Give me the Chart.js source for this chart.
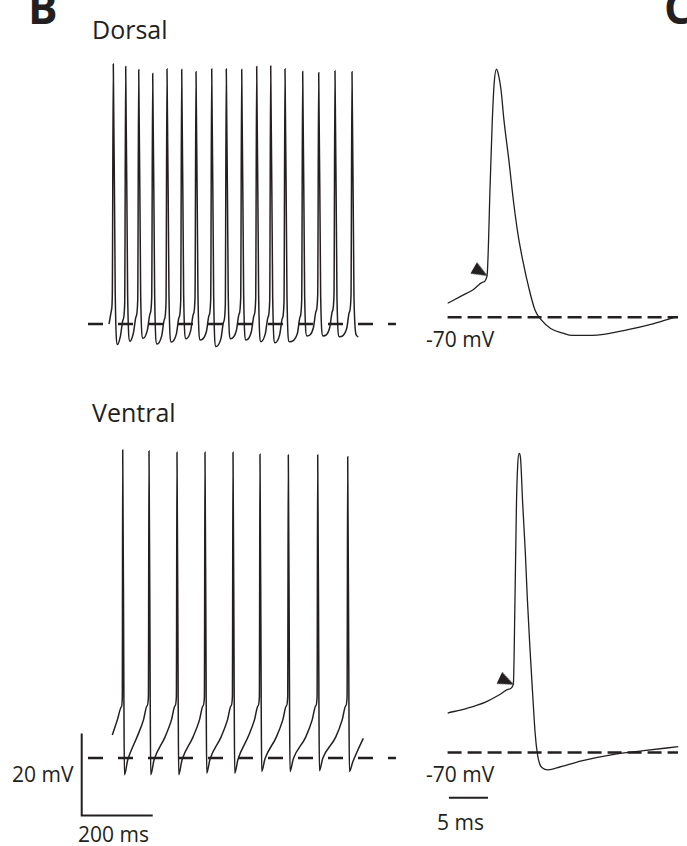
<!DOCTYPE html>
<html>
<head>
<meta charset="utf-8">
<script src="https://cdn.jsdelivr.net/npm/chart.js@4.4.0/dist/chart.umd.min.js"></script>
<style>
  body { margin: 0; background: #fff; }
  #page { position: relative; width: 687px; height: 846px; overflow: hidden; font-family: "Open Sans", sans-serif; color: #231f20; }
  .lbl { position: absolute; white-space: nowrap; line-height: 1; }
  canvas { position: absolute; }
</style>
</head>
<body>
<div id="page">
  <div class="lbl" style="left:28px;top:-15px;font-size:44px;font-weight:bold">B</div>
  <div class="lbl" style="left:664px;top:-15px;font-size:44px;font-weight:bold">C</div>
  <div class="lbl" style="left:92px;top:17px;font-size:25px">Dorsal</div>
  <div class="lbl" style="left:92px;top:400px;font-size:25px">Ventral</div>
  <div class="lbl" style="left:426px;top:329px;font-size:21px">-70 mV</div>
  <div class="lbl" style="left:426px;top:764px;font-size:21px">-70 mV</div>
  <div class="lbl" style="left:12px;top:764px;font-size:21px">20 mV</div>
  <div class="lbl" style="left:78px;top:824px;font-size:21px">200 ms</div>
  <div class="lbl" style="left:437px;top:812px;font-size:21px">5 ms</div>
  <canvas id="dorsalTrain" width="355" height="328" style="left:80px;top:37px"></canvas>
  <canvas id="dorsalSpike" width="257" height="328" style="left:430px;top:37px"></canvas>
  <canvas id="ventralTrain" width="355" height="410" style="left:80px;top:430px"></canvas>
  <canvas id="ventralSpike" width="257" height="410" style="left:430px;top:430px"></canvas>
</div>
<script>
const INK = "#231f20";

// membrane potential traces, [time ms, voltage mV]
const dorsalTrain = [
  [81.7,-70.0],[88.7,-66.6],[91.0,-63.0],
  [93.8,-6.6],[99.3,-63],[105.8,-75.0],[113.7,-73.0],[121.2,-69.0],[125.9,-65.0],
  [128.7,-7.2],[134.2,-63],[140.7,-74.2],[150.4,-72.2],[157.9,-68.2],[162.6,-64.2],
  [165.4,-8.0],[170.9,-63],[177.4,-73.5],[189.8,-71.5],[197.3,-67.5],[202.0,-63.5],
  [204.8,-8.9],[210.3,-63],[216.8,-74.9],[230.1,-72.9],[237.6,-68.9],[242.3,-64.9],
  [245.1,-7.8],[250.6,-63],[257.1,-74.4],[271.5,-72.4],[279.0,-68.4],[283.7,-64.4],
  [286.5,-7.9],[292.0,-63],[298.5,-73.6],[311.8,-71.6],[319.3,-67.6],[324.0,-63.6],
  [326.8,-8.5],[332.3,-63],[338.8,-73.9],[356.0,-71.9],[363.5,-67.9],[368.2,-63.9],
  [371.0,-7.8],[376.5,-63],[383.0,-75.5],[397.1,-73.5],[404.6,-69.5],[409.3,-65.5],
  [412.1,-7.8],[417.6,-63],[424.1,-73.6],[440.5,-71.6],[448.0,-67.6],[452.7,-63.6],
  [455.5,-7.9],[461.0,-63],[467.5,-73.9],[482.7,-71.9],[490.2,-67.9],[494.9,-63.9],
  [497.7,-7.2],[503.2,-63],[509.7,-74.3],[522.2,-72.3],[529.7,-68.3],[534.4,-64.3],
  [537.2,-7.1],[542.7,-63],[549.2,-74.6],[562.5,-72.6],[570.0,-68.6],[574.7,-64.6],
  [577.5,-7.8],[583.0,-63],[589.5,-74.3],[612.3,-72.3],[619.8,-68.3],[624.5,-64.3],
  [627.3,-8.4],[632.8,-63],[639.3,-72.9],[657.4,-70.9],[664.9,-66.9],[669.6,-62.9],
  [672.4,-8.7],[677.9,-63],[684.4,-72.9],[703.3,-70.9],[710.8,-66.9],[715.5,-62.9],
  [718.3,-8.3],[723.8,-63],[730.3,-73.1],[751.2,-71.1],[758.7,-67.1],[763.4,-63.1],
  [766.2,-8.5],[771.7,-63],[778.2,-72.7],[784.0,-73.1]
];

const dorsalSpike = [
  [1.11,-66.4],[2.77,-64.6],[4.37,-62.9],[5.56,-61.0],[6.15,-59.3],
  [6.55,-35.7],[6.82,-19.4],[7.06,-9.7],[7.35,-6.0],[7.54,-6.8],[7.94,-11.3],
  [8.33,-19.4],[8.93,-29.2],[9.52,-39.8],[10.12,-48.7],[10.71,-55.2],[11.51,-62.5],
  [12.30,-68.2],[13.10,-70.7],[14.29,-72.9],[15.87,-74.1],[17.06,-74.7],[20.24,-74.6],
  [24.20,-73.2],[27.38,-71.7],[30.60,-69.8]
];

const ventralTrain = [
  [91.0,-64.4],[105.2,-60.7],[116.6,-57.5],[119.2,-55.1],
  [120.3,5.1],[123.7,-55.9],[125.1,-74.1],[134.4,-70.5],[160.6,-64.9],[178.9,-60.7],[188.8,-57.3],[192.7,-55.1],
  [194.4,4.9],[197.8,-55.9],[199.2,-74.1],[208.5,-70.5],[239.4,-64.9],[257.7,-60.7],[267.6,-57.3],[271.5,-55.1],
  [273.2,4.6],[276.6,-55.9],[278.0,-74.1],[287.3,-70.5],[318.3,-64.9],[336.6,-60.7],[346.5,-57.3],[350.4,-55.1],
  [352.1,4.6],[355.5,-55.9],[356.9,-73.7],[366.2,-70.3],[397.2,-64.9],[415.5,-60.7],[425.4,-57.3],[429.3,-55.1],
  [431.0,4.6],[434.4,-55.9],[435.8,-73.7],[445.1,-70.3],[473.2,-64.9],[491.5,-60.7],[501.4,-57.3],[505.3,-55.1],
  [507.0,4.1],[510.4,-55.9],[511.8,-73.3],[521.1,-70.2],[553.0,-64.9],[571.3,-60.7],[581.2,-57.3],[585.1,-55.1],
  [586.8,3.9],[590.2,-55.9],[591.6,-73.3],[600.9,-70.2],[635.8,-64.9],[654.1,-60.7],[664.0,-57.3],[667.9,-55.1],
  [669.6,3.9],[673.0,-55.9],[674.4,-73.1],[683.7,-70.1],[720.3,-64.9],[738.6,-60.7],[748.5,-57.3],[752.4,-55.1],
  [754.1,3.5],[757.5,-55.9],[758.9,-73.3],[768.3,-71.0],[783.0,-68.0],[798.0,-65.2]
];

const ventralSpike = [
  [1.11,-59.9],[3.57,-58.7],[5.95,-57.1],[7.94,-55.0],[8.93,-53.8],[9.52,-52.6],
  [9.73,-30.7],[9.92,-6.3],[10.08,3.5],[10.27,6.3],[10.44,5.1],[10.71,-6.3],
  [11.04,-18.5],[11.31,-30.7],[11.63,-42.9],[11.99,-55.0],[12.30,-64.8],[12.58,-70.1],
  [12.89,-72.9],[13.30,-74.0],[13.89,-74.4],[15.08,-73.9],[18.25,-72.1],[22.23,-70.5],
  [26.19,-69.5],[30.63,-68.5]
];

// resting level and the span of the dashed reference lines (ms)
const restLevel = -70;
const trainRestSpan = [22.5, 890];
const spikeRestSpan = [1.1, 30.6];

// threshold arrowheads [ms, mV, angle deg]
const dorsalArrow = [5.33, -58.3, 30];
const ventralArrow = [8.66, -51.8, 25];

// scale bars: 20 mV / 200 ms and 5 ms
const trainScaleBar = [[4.8,-64],[4.8,-84],[204.8,-84]];
const spikeScaleBar = [[1.27,-81.5],[6.27,-81.5]];

const xy = (pts) => pts.map(([x, y]) => ({ x, y }));

// small arrowhead glyph, pointing right, used as a point style
const arrowHead = document.createElement("canvas");
arrowHead.width = 16;
arrowHead.height = 13;
(function () {
  const g = arrowHead.getContext("2d");
  g.fillStyle = INK;
  g.beginPath();
  g.moveTo(0, 0);
  g.lineTo(16, 6.5);
  g.lineTo(0, 13);
  g.closePath();
  g.fill();
})();

function trace(pts, width) {
  return {
    data: xy(pts), showLine: true, borderColor: INK, borderWidth: width,
    pointRadius: 0, cubicInterpolationMode: "monotone", clip: false, fill: false
  };
}

function restLine(span, dash) {
  return {
    data: [{ x: span[0], y: restLevel }, { x: span[1], y: restLevel }],
    showLine: true, borderColor: INK, borderWidth: 2.5, borderDash: dash,
    pointRadius: 0, clip: false
  };
}

function arrow(p) {
  return {
    data: [{ x: p[0], y: p[1] }], showLine: false, pointStyle: arrowHead,
    rotation: p[2], pointRadius: 8, clip: false
  };
}

function bar(pts) {
  return {
    data: xy(pts), showLine: true, borderColor: INK, borderWidth: 2,
    pointRadius: 0, clip: false, borderCapStyle: "butt"
  };
}

function makeChart(id, xMax, yMin, yMax, datasets) {
  return new Chart(document.getElementById(id), {
    type: "scatter",
    data: { datasets },
    options: {
      responsive: false,
      animation: false,
      layout: { padding: 0 },
      scales: {
        x: { type: "linear", min: 0, max: xMax, display: false },
        y: { type: "linear", min: yMin, max: yMax, display: false }
      },
      plugins: { legend: { display: false }, tooltip: { enabled: false } },
      events: []
    }
  });
}

makeChart("dorsalTrain", 1000, -80, 0, [
  trace(dorsalTrain, 1.5),
  restLine(trainRestSpan, [15, 15])
]);

makeChart("dorsalSpike", 30.6, -80, 0, [
  arrow(dorsalArrow),
  trace(dorsalSpike, 1.3),
  restLine(spikeRestSpan, [14, 6])
]);

makeChart("ventralTrain", 1000, -90, 10, [
  trace(ventralTrain, 1.5),
  restLine(trainRestSpan, [15, 15]),
  bar(trainScaleBar)
]);

makeChart("ventralSpike", 30.6, -90, 10, [
  arrow(ventralArrow),
  trace(ventralSpike, 1.3),
  restLine(spikeRestSpan, [14, 6]),
  bar(spikeScaleBar)
]);
</script>
</body>
</html>
